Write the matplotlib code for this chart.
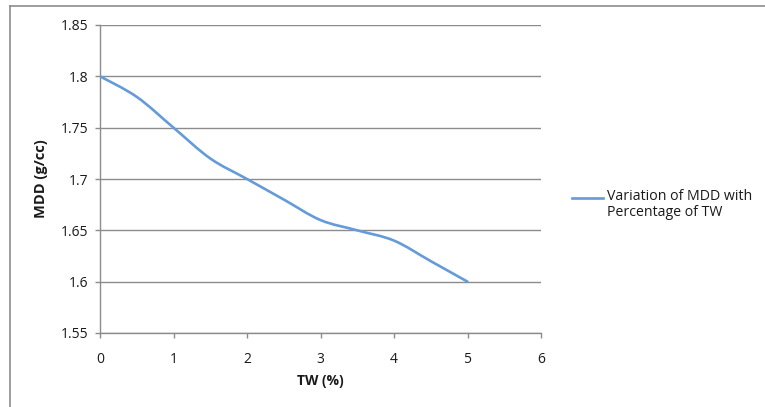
import numpy as np
import matplotlib
matplotlib.use("Agg")
import matplotlib.pyplot as plt
from matplotlib.path import Path
from matplotlib.patches import PathPatch
from matplotlib.lines import Line2D

# data
tw_pct = [0, 0.5, 1, 1.5, 2, 2.5, 3, 3.5, 4, 4.5, 5]
mdd = [1.80, 1.78, 1.75, 1.72, 1.70, 1.68, 1.66, 1.65, 1.64, 1.62, 1.60]
series_name = "Variation of MDD with\nPercentage of TW"
x_ticks = [0, 1, 2, 3, 4, 5, 6]
y_ticks = [1.55, 1.6, 1.65, 1.7, 1.75, 1.8, 1.85]

plt.rcParams['font.family'] = ['Open Sans', 'DejaVu Sans']
W, H = 765, 407
fig = plt.figure(figsize=(W / 100, H / 100), dpi=100)
ax = fig.add_axes([100 / W, 1 - 333 / H, 441 / W, 308 / H])

line_col = '#649BD8'
grid_col = '#8C8C8C'
txt_col = '#1A1A1A'


def smooth_path(xs, ys):
    # Excel-like smoothed line: cubic Bezier segments through the data points
    p = np.column_stack([xs, ys]).astype(float)
    ext = np.vstack([p[0], p, p[-1]])
    verts = [p[0]]
    codes = [Path.MOVETO]
    for i in range(len(p) - 1):
        p0, p1, p2, p3 = ext[i], ext[i + 1], ext[i + 2], ext[i + 3]
        c1 = p1 + (p2 - p0) / 6
        c2 = p2 - (p3 - p1) / 6
        verts += [c1, c2, p2]
        codes += [Path.CURVE4] * 3
    return Path(verts, codes)


ax.add_patch(PathPatch(smooth_path(tw_pct, mdd), facecolor='none',
                       edgecolor=line_col, lw=1.9, zorder=3,
                       capstyle='round', joinstyle='round'))

ax.set_xlim(0, 6)
ax.set_ylim(1.55, 1.85)
ax.set_xticks(x_ticks)
ax.set_yticks(y_ticks)
ax.set_xticklabels([str(v) for v in x_ticks])
ax.set_yticklabels(['1.55', '1.6', '1.65', '1.7', '1.75', '1.8', '1.85'])
ax.yaxis.grid(True, color=grid_col, lw=1.0)
ax.set_axisbelow(True)
for s in ['top', 'right']:
    ax.spines[s].set_visible(False)
for s in ['left', 'bottom']:
    ax.spines[s].set_color(grid_col)
    ax.spines[s].set_linewidth(1.0)
ax.tick_params(axis='both', direction='out', length=3.5, width=1.0,
               color=grid_col, labelsize=10, labelcolor=txt_col)
ax.tick_params(axis='x', pad=10)
ax.tick_params(axis='y', pad=5)

ax.set_xlabel('TW (%)', fontsize=10, fontweight='bold', labelpad=5, color=txt_col)
ax.set_ylabel('MDD (g/cc)', fontsize=10.5, fontweight='bold', labelpad=9, color=txt_col)

# legend drawn at right, Excel style
fig.add_artist(Line2D([572 / W, 603 / W], [1 - 198 / H, 1 - 198 / H],
                      color=line_col, lw=1.9))
fig.text(607 / W, 1 - 189 / H, series_name, fontsize=10.2, color=txt_col,
         va='top', ha='left', linespacing=1.1)

# chart frame (top and left edges visible)
fig.add_artist(Line2D([10 / W, 1.0], [1 - 6 / H, 1 - 6 / H], color='#8C8C8C', lw=1.2))
fig.add_artist(Line2D([10 / W, 10 / W], [1 - 6 / H, 0], color='#8C8C8C', lw=1.2))

fig.savefig('out.png', dpi=100)
